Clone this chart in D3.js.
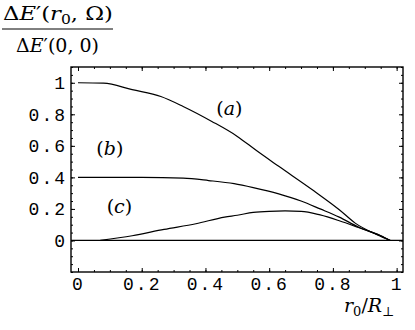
<!DOCTYPE html>
<html lang="en">
<head>
  <meta charset="UTF-8">
  <title>ΔE' vs r0/R</title>
  <style>
    body { margin: 0; background: #fff; }
    .tick text { font-family: 'Liberation Mono', 'Courier New', monospace; font-size: 18px; letter-spacing: 2px; fill: #000; }
    .serif { font-family: 'DejaVu Serif', 'Liberation Serif', serif; }
  </style>
</head>
<body>
<div class="demo"></div>
<script src="https://d3js.org/d3.v7.min.js"></script>
<script>
  // curve (a)
  let rA = [0, 0.08, 0.17, 0.26, 0.33, 0.42, 0.5, 0.56, 0.63, 0.74, 0.82, 0.87, 0.94, 0.98]
  let vA = [1, 0.998, 0.956, 0.913, 0.85, 0.755, 0.66, 0.57, 0.47, 0.315, 0.195, 0.11, 0.035, 0]
  // curve (b)
  let rB = [0, 0.2, 0.33, 0.41, 0.49, 0.55, 0.63, 0.70, 0.76, 0.82, 0.88, 0.95, 0.98]
  let vB = [0.4, 0.4, 0.395, 0.38, 0.36, 0.335, 0.295, 0.25, 0.2, 0.148, 0.085, 0.03, 0]
  // curve (c)
  let rC = [0.07, 0.17, 0.27, 0.37, 0.46, 0.5, 0.55, 0.6, 0.65, 0.7, 0.76, 0.82, 0.88, 0.95, 0.98]
  let vC = [0, 0.03, 0.07, 0.106, 0.148, 0.16, 0.178, 0.185, 0.187, 0.185, 0.162, 0.125, 0.082, 0.03, 0]

  let xTicks = [0, 0.2, 0.4, 0.6, 0.8, 1]
  let yTicks = [0, 0.2, 0.4, 0.6, 0.8, 1]
  let curveLabels = [
    {name: 'a', r: 0.475, v: 0.795},
    {name: 'b', r: 0.1, v: 0.545},
    {name: 'c', r: 0.13, v: 0.175}
  ]

  let svg = d3.select('.demo').append('svg')
    .attr('width', 415)
    .attr('height', 330)

  let x = d3.scaleLinear().domain([-0.022, 1.02]).range([71, 403])
  let y = d3.scaleLinear().domain([-0.2, 1.1]).range([272, 67])

  let fmt = d => d === 0 || d === 1 ? String(d) : d.toFixed(1)
  let minor = d3.range(-0.2, 1.1001, 0.05).map(d => +d.toFixed(2))
  let minorX = d3.range(0, 1.0001, 0.05).map(d => +d.toFixed(2))

  // minor ticks on all four sides
  svg.append('g').attr('transform', 'translate(0,272)')
    .call(d3.axisBottom(x).tickValues(minorX).tickSize(-2).tickFormat(''))
  svg.append('g').attr('transform', 'translate(0,67)')
    .call(d3.axisTop(x).tickValues(minorX).tickSize(-2).tickFormat(''))
  svg.append('g').attr('transform', 'translate(71,0)')
    .call(d3.axisLeft(y).tickValues(minor).tickSize(-2).tickFormat(''))
  svg.append('g').attr('transform', 'translate(403,0)')
    .call(d3.axisRight(y).tickValues(minor).tickSize(-2).tickFormat(''))

  // major ticks + labels
  svg.append('g').attr('transform', 'translate(0,272)')
    .call(d3.axisBottom(x).tickValues(xTicks).tickSize(-4).tickPadding(5).tickFormat(fmt))
  svg.append('g').attr('transform', 'translate(0,67)')
    .call(d3.axisTop(x).tickValues(xTicks).tickSize(-4).tickFormat(''))
  svg.append('g').attr('transform', 'translate(71,0)')
    .call(d3.axisLeft(y).tickValues(yTicks).tickSize(-4).tickPadding(4).tickFormat(fmt))
  svg.append('g').attr('transform', 'translate(403,0)')
    .call(d3.axisRight(y).tickValues(yTicks).tickSize(-4).tickFormat(''))

  svg.selectAll('.domain').remove()
  svg.selectAll('.tick line').attr('stroke', '#000')

  svg.append('rect')
    .attr('x', 71).attr('y', 67)
    .attr('width', 403 - 71).attr('height', 272 - 67)
    .attr('fill', 'none').attr('stroke', '#000').attr('stroke-width', 1.4)

  // zero line
  svg.append('line')
    .attr('x1', x(-0.022)).attr('x2', x(1.02))
    .attr('y1', y(0)).attr('y2', y(0))
    .attr('stroke', '#000').attr('stroke-width', 1.3)

  let line = d3.line()
    .x(d => x(d[0]))
    .y(d => y(d[1]))
    .curve(d3.curveMonotoneX)

  let series = [d3.zip(rA, vA), d3.zip(rB, vB), d3.zip(rC, vC)]
  svg.selectAll('path.curve')
    .data(series)
    .enter()
    .append('path')
    .attr('class', 'curve')
    .attr('d', d => line(d))
    .attr('fill', 'none')
    .attr('stroke', '#000')
    .attr('stroke-width', 1.2)

  // curve labels
  let lab = svg.selectAll('text.lab')
    .data(curveLabels)
    .enter()
    .append('text')
    .attr('class', 'lab serif')
    .attr('font-size', '19px')
    .attr('text-anchor', 'middle')
    .attr('x', d => x(d.r))
    .attr('y', d => y(d.v))
  lab.append('tspan').text('(')
  lab.append('tspan').attr('font-style', 'italic').text(d => d.name)
  lab.append('tspan').text(')')

  // x title
  let xt = svg.append('text').attr('class', 'serif')
    .attr('font-size', '19px').attr('x', 344).attr('y', 312)
  xt.append('tspan').attr('font-style', 'italic').text('r')
  xt.append('tspan').attr('font-size', '13px').attr('dy', 4).text('0')
  xt.append('tspan').attr('dy', -4).text('/')
  xt.append('tspan').attr('font-style', 'italic').text('R')
  xt.append('tspan').attr('font-size', '13px').attr('dy', 4).text('⊥')

  // y title (fraction)
  let num = svg.append('text').attr('class', 'serif')
    .attr('font-size', '19px').attr('x', 3).attr('y', 20)
    .attr('textLength', 110).attr('lengthAdjust', 'spacingAndGlyphs')
  num.append('tspan').text('Δ')
  num.append('tspan').attr('font-style', 'italic').text('E')
  num.append('tspan').text('′(')
  num.append('tspan').attr('font-style', 'italic').text('r')
  num.append('tspan').attr('font-size', '13px').attr('dy', 4).text('0')
  num.append('tspan').attr('dy', -4).text(', Ω)')

  svg.append('line')
    .attr('x1', 2).attr('x2', 113).attr('y1', 29).attr('y2', 29)
    .attr('stroke', '#000').attr('stroke-width', 1)

  let den = svg.append('text').attr('class', 'serif')
    .attr('font-size', '19px').attr('x', 57.5).attr('y', 52)
    .attr('text-anchor', 'middle')
  den.append('tspan').text('Δ')
  den.append('tspan').attr('font-style', 'italic').text('E')
  den.append('tspan').text('′(0, 0)')
</script>
</body>
</html>
